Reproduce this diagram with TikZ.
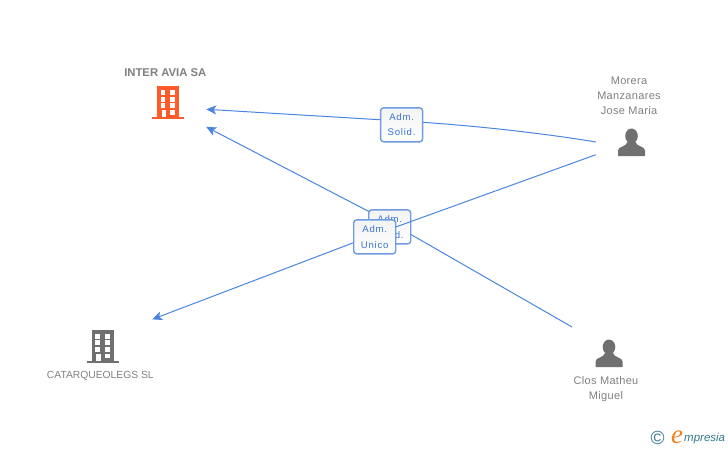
\documentclass[tikz,border=0pt]{standalone}
\usepackage{fontspec}
\setmainfont{Liberation Sans}
\newfontfamily\boxfont[LetterSpace=8]{Liberation Sans}
\newfontfamily\namefont[LetterSpace=3]{Liberation Sans}
\newfontfamily\logofont{Liberation Serif}
\usetikzlibrary{arrows.meta}

\definecolor{link}{RGB}{74,134,224}
\definecolor{boxline}{RGB}{110,155,225}
\definecolor{boxtop}{RGB}{243,243,243}
\definecolor{boxtext}{RGB}{55,115,215}
\definecolor{nametext}{RGB}{128,128,128}
\definecolor{icongrey}{RGB}{112,112,112}
\definecolor{iconred}{RGB}{255,90,44}
\definecolor{logoteal}{RGB}{50,120,140}
\definecolor{logoorange}{RGB}{240,130,30}

\tikzset{
  linkline/.style={draw=link,line width=1pt},
  linkarrow/.style={linkline,-{Stealth[length=10pt,width=9pt,inset=2.5pt]}},
  rolebox/.style={draw=boxline,line width=1.4pt,rounded corners=3pt,top color=boxtop,bottom color=white,
    minimum width=42pt,minimum height=34pt,inner sep=0pt,align=center,text=boxtext,
    font=\boxfont\fontsize{9.6}{15.5}\selectfont},
  namelabel/.style={text=nametext,align=center,inner sep=0pt,font=\namefont\fontsize{11}{15}\selectfont},
  holder/.style={minimum height=60pt,inner sep=0pt},
  pics/building/.style={code={
    \fill[#1] (-11,-33) rectangle (11,-1);
    \fill[#1] (-16,-2) rectangle (16,0);
    \foreach \wy in {-29.3,-22.6,-16}{
      \fill[white] (-7.8,\wy) rectangle (-2.9,\wy+4.8);
      \fill[white] (2.1,\wy) rectangle (7,\wy+4.8);
    }
    \fill[white] (2.1,-9.4) rectangle (7,-4.6);
    \fill[white] (-6.8,-9.4) rectangle (-2.4,-2);
  }},
  pics/person/.style={code={
    \fill[icongrey] (0,-20) ellipse (6.3 and 7.5);
    \fill[icongrey] (-13.5,0) -- (-13.5,-5.5) .. controls (-13.5,-10) and (-5,-9) .. (-4,-14)
      -- (4,-14) .. controls (5,-9) and (13.5,-10) .. (13.5,-5.5) -- (13.5,0) -- cycle;
  }}
}

\begin{document}
\begin{tikzpicture}[x=1pt,y=-1pt]

\useasboundingbox (0,0) rectangle (728,450);

%% holders, the links end on their borders
\node[holder,minimum width=76pt] (interavia) at (168,107) {};
\node[holder,minimum width=98pt] (catarqueolegs) at (103,338) {};
\node[holder,minimum width=70pt] (morera) at (631,142) {};
\node[holder,minimum width=73pt] (clos) at (608.7,348) {};

\coordinate (solidturn) at (401,121);
\coordinate (closturn) at (390,222.5);
\coordinate (unicoturn) at (375,234.5);

\pic at (168.3,119.3) {building=iconred};
\pic at (103.2,363) {building=icongrey};
\pic at (631.5,156) {person};
\pic at (609,367) {person};

\node[text=nametext,inner sep=0pt,font=\bfseries\fontsize{11.3}{14}\selectfont] (interavialabel) at (165.3,72.5) {INTER AVIA SA};
\node[text=nametext,inner sep=0pt,font=\fontsize{10.3}{15}\selectfont] (catarqueolegslabel) at (100.3,375.5) {CATARQUEOLEGS SL};
\node[namelabel] (moreralabel) at (629,95.5) {Morera\\Manzanares\\Jose Maria};
\node[namelabel] (closlabel) at (606,389) {Clos Matheu\\Miguel};

\draw[linkarrow] (morera.west) .. controls (530,131) and (450,123.5) .. (solidturn) -- (interavia);
\node[rolebox] (solid) at (401.6,124.8) {Adm.\\Solid.};

\draw[linkarrow] (clos) -- (closturn) -- (interavia);
\node[rolebox] (solidtwo) at (389.7,226.9) {Adm.\\Solid.};

\draw[linkarrow] (morera) -- (unicoturn) -- (catarqueolegs);
\node[rolebox] (unico) at (374.7,236.9) {Adm.\\Unico};

%%Logo
\node[text=logoteal,inner sep=0pt,font=\fontsize{19}{19}\selectfont] (copyright) at (657.5,438) {\textcopyright};
\node[text=logoorange,inner sep=0pt,font=\logofont\itshape\fontsize{27}{27}\selectfont] (logoe) at (677,437.5) {e};
\node[text=logoteal,anchor=west,inner sep=0pt,font=\itshape\fontsize{11.5}{12}\selectfont] (logotext) at (684,439) {mpresia};

\end{tikzpicture}
\end{document}
